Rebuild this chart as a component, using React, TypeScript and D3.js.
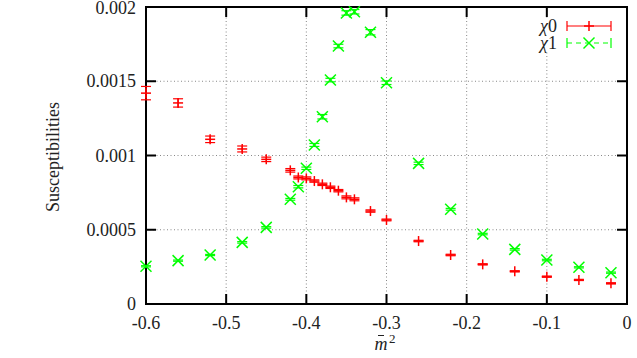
import React from "react";
import * as d3 from "d3";

const xVals = [-0.60, -0.56, -0.52, -0.48, -0.45, -0.42, -0.41, -0.40, -0.39, -0.38, -0.37, -0.36, -0.35, -0.34, -0.32, -0.30, -0.26, -0.22, -0.18, -0.14, -0.10, -0.06, -0.02];
const chi0 = [0.001420, 0.001354, 0.001109, 0.001044, 0.000974, 0.000900, 0.000852, 0.000846, 0.000828, 0.000806, 0.000786, 0.000763, 0.000718, 0.000705, 0.000626, 0.000566, 0.000424, 0.000330, 0.000267, 0.000220, 0.000184, 0.000162, 0.000139];
const chi0Err = [0.000045, 0.000028, 0.000022, 0.000020, 0.000015, 0.000012, 0.000010, 0.000010, 0.000008, 0.000008, 0.000008, 0.000008, 0.000010, 0.000010, 0.000008, 0.000006, 0.000005, 0.000005, 0.000004, 0.000004, 0.000004, 0.000004, 0.000004];
const chi1 = [0.000254, 0.000292, 0.000330, 0.000415, 0.000516, 0.000705, 0.000790, 0.000914, 0.001071, 0.001261, 0.001508, 0.001737, 0.001960, 0.001968, 0.001830, 0.001490, 0.000947, 0.000638, 0.000471, 0.000368, 0.000296, 0.000247, 0.000211];
const chi1Err = [0.000004, 0.000004, 0.000004, 0.000005, 0.000005, 0.000006, 0.000008, 0.000008, 0.000010, 0.000015, 0.000012, 0.000012, 0.000015, 0.000015, 0.000018, 0.000012, 0.000008, 0.000006, 0.000005, 0.000005, 0.000005, 0.000004, 0.000004];

const xTicks = [-0.6, -0.5, -0.4, -0.3, -0.2, -0.1, 0];
const xTickLabels = ["-0.6", "-0.5", "-0.4", "-0.3", "-0.2", "-0.1", "0"];
const yTicks = [0, 0.0005, 0.001, 0.0015, 0.002];
const yTickLabels = ["0", "0.0005", "0.001", "0.0015", "0.002"];
const seriesNames = ["χ", "χ"];
const seriesSubs = ["0", "1"];

const W = 637, H = 358;
const L = 146, R = 627, T = 7, B = 304;
const FONT = "\"Liberation Serif\", Tinos, serif";
const RED = "#ff0000", GREEN = "#00ff00";

export default function App() {
  const x = d3.scaleLinear().domain([-0.6, 0]).range([L, R]);
  const y = d3.scaleLinear().domain([0, 0.002]).range([B, T]);
  const cap = 5;
  const ms = 5;
  const xs = 5.5;

  const plus = (cx: number, cy: number, s: number, color: string, k: string) => (
    <g key={k} stroke={color} strokeWidth={1.5}>
      <line x1={cx - s} x2={cx + s} y1={cy} y2={cy} />
      <line x1={cx} x2={cx} y1={cy - s} y2={cy + s} />
    </g>
  );
  const cross = (cx: number, cy: number, s: number, color: string, k: string) => (
    <g key={k} stroke={color} strokeWidth={1.5}>
      <line x1={cx - s} x2={cx + s} y1={cy - s} y2={cy + s} />
      <line x1={cx - s} x2={cx + s} y1={cy + s} y2={cy - s} />
    </g>
  );
  const errBar = (cx: number, v: number, e: number, color: string, k: string) => {
    const y1 = y(v - e), y2 = y(v + e);
    return (
      <g key={k} stroke={color} strokeWidth={1.2}>
        <line x1={cx} x2={cx} y1={y1} y2={y2} />
        <line x1={cx - cap} x2={cx + cap} y1={y1} y2={y1} />
        <line x1={cx - cap} x2={cx + cap} y1={y2} y2={y2} />
      </g>
    );
  };

  const legY = [26, 43];
  const lx1 = 567, lx2 = 611, lxm = 589;
  const txt = { fontFamily: FONT };

  return (
    <svg width={W} height={H} style={{ position: "absolute", left: 0, top: 0, background: "#fff", fontFamily: FONT }}>
      <rect x={0} y={0} width={W} height={H} fill="#fff" />
      <g stroke="#888" strokeWidth={1} strokeDasharray="1,2.5">
        {xTicks.slice(1, -1).map((t, i) => (
          <line key={"gx" + i} x1={x(t)} x2={x(t)} y1={T} y2={B} />
        ))}
        {yTicks.slice(1, -1).map((t, i) => (
          <line key={"gy" + i} x1={L} x2={R} y1={y(t)} y2={y(t)} />
        ))}
      </g>
      <rect x={520} y={18} width={102} height={34} fill="#fff" />
      <g stroke="#000" strokeWidth={2}>
        {xTicks.map((t, i) => (
          <g key={"tx" + i}>
            <line x1={x(t)} x2={x(t)} y1={B} y2={B - 10} />
            <line x1={x(t)} x2={x(t)} y1={T} y2={T + 10} />
          </g>
        ))}
        {yTicks.map((t, i) => (
          <g key={"ty" + i}>
            <line x1={L} x2={L + 10} y1={y(t)} y2={y(t)} />
            <line x1={R} x2={R - 10} y1={y(t)} y2={y(t)} />
          </g>
        ))}
      </g>
      <rect x={L} y={T} width={R - L} height={B - T} fill="none" stroke="#000" strokeWidth={2} />
      <g fill="#222" fontSize={18} style={txt}>
        {xTicks.map((t, i) => (
          <text key={"lx" + i} x={x(t)} y={329} textAnchor="middle">{xTickLabels[i]}</text>
        ))}
        {yTicks.map((t, i) => (
          <text key={"ly" + i} x={136} y={Math.max(y(t) + 6, 14)} textAnchor="end">{yTickLabels[i]}</text>
        ))}
      </g>
      <text x={53} y={157} fontSize={18} fill="#222" textAnchor="middle" dominantBaseline="central" transform="rotate(-90 53 157)" style={txt}>Susceptibilities</text>
      <g fill="#222" style={txt}>
        <text x={381} y={350} fontSize={18} fontStyle="italic" textAnchor="middle">m</text>
        <line x1={378} x2={384} y1={335.5} y2={335.5} stroke="#222" strokeWidth={1} />
        <text x={389} y={343} fontSize={13}>2</text>
      </g>
      <g>
        {xVals.map((xv, i) => errBar(x(xv), chi0[i], chi0Err[i], RED, "e0" + i))}
        {xVals.map((xv, i) => plus(x(xv), y(chi0[i]), ms, RED, "p0" + i))}
      </g>
      <g>
        {xVals.map((xv, i) => errBar(x(xv), chi1[i], chi1Err[i], GREEN, "e1" + i))}
        {xVals.map((xv, i) => cross(x(xv), y(chi1[i]), xs, GREEN, "p1" + i))}
      </g>
      {seriesNames.map((n, i) => (
        <text key={"lt" + i} x={557} y={legY[i] + 6} fontSize={18} fill="#222" textAnchor="end" style={txt}>
          <tspan fontStyle="italic">{n}</tspan>
          <tspan>{seriesSubs[i]}</tspan>
        </text>
      ))}
      <g stroke={RED} strokeWidth={1.2}>
        <line x1={lx1} x2={lx2} y1={legY[0]} y2={legY[0]} />
        <line x1={lx1} x2={lx1} y1={legY[0] - 5} y2={legY[0] + 5} />
        <line x1={lx2} x2={lx2} y1={legY[0] - 5} y2={legY[0] + 5} />
      </g>
      {plus(lxm, legY[0], ms, RED, "lp0")}
      <g stroke={GREEN} strokeWidth={1.2}>
        <line x1={lx1} x2={lx2} y1={legY[1]} y2={legY[1]} strokeDasharray="5,4" />
        <line x1={lx1} x2={lx1} y1={legY[1] - 5} y2={legY[1] + 5} />
        <line x1={lx2} x2={lx2} y1={legY[1] - 5} y2={legY[1] + 5} />
      </g>
      {cross(lxm, legY[1], xs, GREEN, "lp1")}
    </svg>
  );
}
